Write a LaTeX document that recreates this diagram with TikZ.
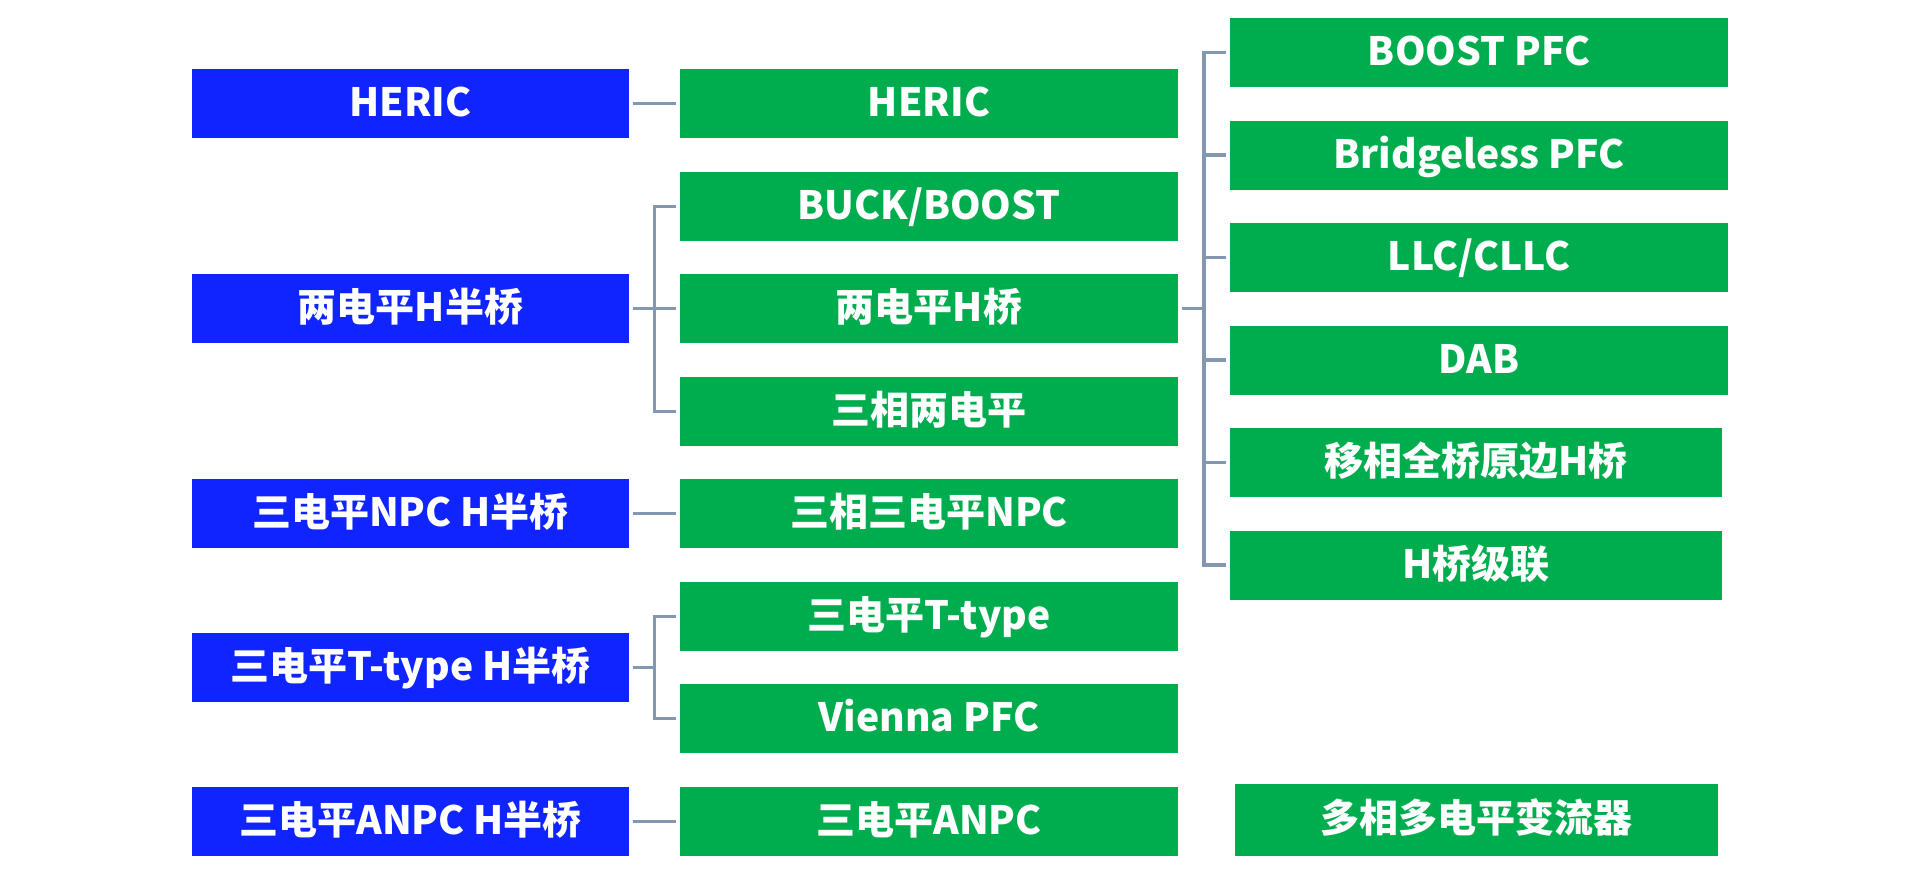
\documentclass[tikz,border=0pt]{standalone}
\usepackage{fontspec}
\newfontfamily\cjk{Noto Sans CJK SC}
\usetikzlibrary{calc}
\definecolor{myblue}{HTML}{0F24FF}
\definecolor{mygreen}{HTML}{00AD4E}
\definecolor{lnk}{HTML}{8497B0}
\begin{document}
\begin{tikzpicture}[x=0.5pt,y=-0.5pt,
 box/.style={inner sep=0pt, text=white, font=\cjk\bfseries\fontsize{19.5pt}{23pt}\selectfont, text height=16.6pt, text depth=3.4pt, minimum height=34.5pt},
 bbox/.style={box, fill=myblue, minimum width=218.5pt},
 gbox/.style={box, fill=mygreen, minimum width=249pt},
 conn/.style={draw=lnk, line width=1.8pt},
]
\useasboundingbox (0,0) rectangle (1920,885);
% left column
\node[bbox] (b1) at (410.5,103.5) {HERIC};
\node[bbox] (b2) at (410.5,308.5) {两电平H半桥};
\node[bbox] (b3) at (410.5,513.5) {三电平NPC H半桥};
\node[bbox] (b4) at (410.5,667.5) {三电平T-type H半桥};
\node[bbox] (b5) at (410.5,821.5) {三电平ANPC H半桥};
% middle column
\node[gbox] (g1) at (929,103.5) {HERIC};
\node[gbox] (g2) at (929,206.5) {BUCK/BOOST};
\node[gbox] (g3) at (929,308.5) {两电平H桥};
\node[gbox] (g4) at (929,411.5) {三相两电平};
\node[gbox] (g5) at (929,513.5) {三相三电平NPC};
\node[gbox] (g6) at (929,616.5) {三电平T-type};
\node[gbox] (g7) at (929,718.5) {Vienna PFC};
\node[gbox] (g8) at (929,821.5) {三电平ANPC};
% right column
\node[gbox] (r1) at (1479,52.5) {BOOST PFC};
\node[gbox] (r2) at (1479,155) {Bridgeless PFC};
\node[gbox] (r3) at (1479,257.5) {LLC/CLLC};
\node[gbox] (r4) at (1479,360) {DAB};
\node[gbox, minimum width=246pt] (r5) at (1476,462.5) {移相全桥原边H桥};
\node[gbox, minimum width=246pt] (r6) at (1476,565) {H桥级联};
\node[gbox, minimum width=241.5pt, minimum height=36pt] (r7) at (1476.5,819.5) {多相多电平变流器};
% straight connectors
\draw[conn, shorten <=2pt, shorten >=2pt] (b1) -- (g1);
\draw[conn, shorten <=2pt, shorten >=2pt] (b3) -- (g5);
\draw[conn, shorten <=2pt, shorten >=2pt] (b5) -- (g8);
% bracket for b2
\coordinate (j2) at ($(b2.east)!0.5!(g3.west)$);
\draw[conn] ([xshift=2pt]b2.east) -- (j2);
\draw[conn] ([xshift=-2pt]g2.west) -| (j2) |- ([xshift=-2pt]g4.west);
\draw[conn] (j2) -- ([xshift=-2pt]g3.west);
% bracket for b4
\coordinate (j4) at ($(b4.east)!0.5!(b4.east -| g6.west)$);
\draw[conn] ([xshift=2pt]b4.east) -- (j4);
\draw[conn] ([xshift=-2pt]g6.west) -| (j4) |- ([xshift=-2pt]g7.west);
% bracket for g3
\coordinate (j3) at ($(g3.east)!0.5!(g3.east -| r1.west)$);
\draw[conn] ([xshift=2pt]g3.east) -- (j3);
\draw[conn] ([xshift=-2pt]r1.west) -| (j3) |- ([xshift=-2pt]r6.west);
\draw[conn] ([xshift=-2pt]r2.west) -- (r2.west -| j3);
\draw[conn] ([xshift=-2pt]r3.west) -- (r3.west -| j3);
\draw[conn] ([xshift=-2pt]r4.west) -- (r4.west -| j3);
\draw[conn] ([xshift=-2pt]r5.west) -- (r5.west -| j3);
\end{tikzpicture}
\end{document}
